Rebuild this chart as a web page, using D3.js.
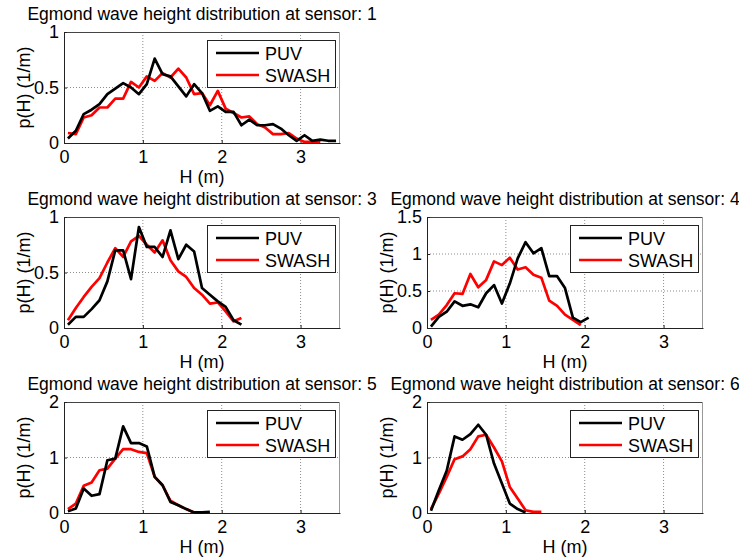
<!DOCTYPE html>
<html>
<head>
<meta charset="utf-8">
<script src="https://cdn.jsdelivr.net/npm/d3@7"></script>
<style>
  body { margin: 0; background: #fff; }
  svg { display: block; font-family: "Liberation Sans", Arial, sans-serif; }
</style>
</head>
<body>
<svg width="739" height="559"></svg>
<script>
// bin centres of the wave height histogram (m)
var hBins = [0.05,0.15,0.25,0.35,0.45,0.55,0.65,0.75,0.85,0.95,1.05,1.15,1.25,1.35,1.45,1.55,1.65,1.75,
             1.85,1.95,2.05,2.15,2.25,2.35,2.45,2.55,2.65,2.75,2.85,2.95,3.05,3.15,3.25,3.35,3.45];

var sensors = [1, 3, 4, 5, 6];
var seriesNames = ['PUV', 'SWASH'];
var xTicks = [0, 1, 2, 3];
var yMax = [1, 1, 1.5, 2, 2];
var yTicks = [[0, 0.5, 1], [0, 0.5, 1], [0, 0.5, 1, 1.5], [0, 1, 2], [0, 1, 2]];

var puv1 = [0.04,0.11,0.26,0.30,0.35,0.44,0.49,0.54,0.50,0.44,0.53,0.76,0.62,0.60,0.51,0.42,0.53,0.45,
            0.29,0.33,0.28,0.28,0.16,0.21,0.16,0.16,0.17,0.13,0.07,0.02,0.07,0.02,0.03,0.02,0.02];
var swash1 = [0.09,0.08,0.23,0.25,0.32,0.32,0.40,0.40,0.55,0.50,0.60,0.56,0.63,0.59,0.67,0.59,0.44,0.45,
              0.34,0.47,0.31,0.27,0.23,0.24,0.17,0.14,0.08,0.08,0.09,0.04,0.01,0.01,0.01];

var puv3 = [0.03,0.10,0.10,0.17,0.25,0.42,0.70,0.70,0.44,0.91,0.73,0.73,0.64,0.88,0.62,0.75,0.69,0.36,
            0.30,0.24,0.19,0.07,0.03];
var swash3 = [0.07,0.18,0.28,0.37,0.45,0.59,0.72,0.64,0.78,0.83,0.75,0.68,0.79,0.61,0.51,0.46,0.36,0.30,
              0.22,0.23,0.15,0.06,0.09];

var puv4 = [0.02,0.15,0.22,0.36,0.30,0.32,0.28,0.47,0.58,0.33,0.60,0.94,1.16,1.01,1.08,0.70,0.70,0.54,
            0.14,0.08,0.14];
var swash4 = [0.11,0.18,0.31,0.47,0.46,0.73,0.55,0.65,0.90,0.85,0.95,0.79,0.82,0.72,0.68,0.37,0.30,0.18,
              0.11,0.04];

var puv5 = [0.03,0.08,0.44,0.31,0.34,0.95,0.98,1.56,1.26,1.26,1.20,0.65,0.50,0.20,0.14,0.07,0.01,0.01,0.02];
var swash5 = [0.07,0.17,0.49,0.55,0.77,0.80,0.98,1.15,1.15,1.10,1.08,0.65,0.50,0.22,0.14,0.07,0.01];

var puv6 = [0.04,0.41,0.76,1.38,1.32,1.42,1.59,1.41,0.89,0.53,0.17,0.07,0.01];
var swash6 = [0.07,0.35,0.65,0.97,1.02,1.15,1.38,1.41,1.18,0.93,0.47,0.26,0.05,0.02,0.02];

var puvData = [puv1, puv3, puv4, puv5, puv6];
var swashData = [swash1, swash3, swash4, swash5, swash6];

var svg = d3.select('svg');

var colLeft = [64, 427];
var rowTop = [32, 217, 402];
var slots = [[0, 0], [1, 0], [1, 1], [2, 0], [2, 1]];
var w = 276, h = 111;

sensors.forEach(function(sensor, i) {
    var slot = slots[i];
    var g = svg.append('g')
        .attr('transform', 'translate(' + colLeft[slot[1]] + ',' + rowTop[slot[0]] + ')');

    var x = d3.scaleLinear().domain([0, 3.5]).range([0, w]);
    var y = d3.scaleLinear().domain([0, yMax[i]]).range([h, 0]);

    // dotted grid
    g.selectAll('.gx').data(xTicks.filter(function(t) { return t > 0; }))
        .enter().append('line')
        .attr('x1', function(d) { return x(d); }).attr('x2', function(d) { return x(d); })
        .attr('y1', 0).attr('y2', h)
        .attr('stroke', '#8c8c8c').attr('stroke-dasharray', '1,2');
    g.selectAll('.gy').data(yTicks[i].filter(function(t) { return t > 0 && t < yMax[i]; }))
        .enter().append('line')
        .attr('y1', function(d) { return y(d); }).attr('y2', function(d) { return y(d); })
        .attr('x1', 0).attr('x2', w)
        .attr('stroke', '#8c8c8c').attr('stroke-dasharray', '1,2');

    // box top / right
    g.append('line').attr('x1', 0).attr('x2', w).attr('y1', 0.5).attr('y2', 0.5)
        .attr('stroke', '#444');
    g.append('line').attr('x1', w - 0.5).attr('x2', w - 0.5).attr('y1', 0).attr('y2', h)
        .attr('stroke', '#999');

    var xAxis = g.append('g')
        .attr('transform', 'translate(0,' + h + ')')
        .call(d3.axisBottom(x).tickValues(xTicks).tickFormat(d3.format('d'))
            .tickSizeInner(-3).tickSizeOuter(0).tickPadding(7));
    var yAxis = g.append('g')
        .call(d3.axisLeft(y).tickValues(yTicks[i]).tickFormat(function(d) { return String(d); })
            .tickSizeInner(-3).tickSizeOuter(0).tickPadding(5));
    [xAxis, yAxis].forEach(function(a) {
        a.select('.domain').attr('stroke', '#222');
        a.selectAll('line').attr('stroke', '#222');
        a.selectAll('text').attr('font-size', 18).attr('fill', '#000')
            .attr('font-family', '"Liberation Sans", Arial, sans-serif');
    });
    xAxis.selectAll('text').attr('dy', '0.71em');

    // series
    var line = d3.line()
        .x(function(d, k) { return x(hBins[k]); })
        .y(function(d) { return y(d); });

    g.append('path').datum(swashData[i])
        .attr('d', line).attr('fill', 'none')
        .attr('stroke', '#ff0000').attr('stroke-width', 2.7).attr('stroke-linejoin', 'round');
    g.append('path').datum(puvData[i])
        .attr('d', line).attr('fill', 'none')
        .attr('stroke', '#000').attr('stroke-width', 2.7).attr('stroke-linejoin', 'round');

    // titles and labels
    g.append('text')
        .attr('x', w / 2).attr('y', -12)
        .attr('text-anchor', 'middle').attr('font-size', 17.5)
        .text('Egmond wave height distribution at sensor: ' + sensor);
    g.append('text')
        .attr('x', w / 2).attr('y', h + 40)
        .attr('text-anchor', 'middle').attr('font-size', 18)
        .text('H (m)');
    g.append('text')
        .attr('transform', 'translate(-34,' + (h / 2) + ') rotate(-90)')
        .attr('text-anchor', 'middle').attr('font-size', 18)
        .text('p(H) (1/m)');

    // legend
    var lg = g.append('g').attr('transform', 'translate(' + (w - 133) + ',8)');
    lg.append('rect').attr('x', 0.5).attr('y', 0.5).attr('width', 128).attr('height', 47)
        .attr('fill', '#fff').attr('stroke', '#222');
    seriesNames.forEach(function(name, k) {
        var ly = 13 + k * 22;
        lg.append('line').attr('x1', 9).attr('x2', 52).attr('y1', ly).attr('y2', ly)
            .attr('stroke', k === 0 ? '#000' : '#ff0000').attr('stroke-width', 2.7);
        lg.append('text').attr('x', 58).attr('y', ly + 6.5)
            .attr('font-size', 18).text(name);
    });
});
</script>
</body>
</html>
